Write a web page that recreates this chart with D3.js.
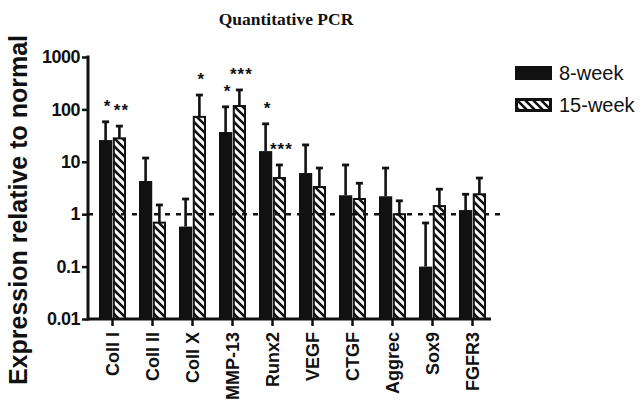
<!DOCTYPE html>
<html>
<head>
<meta charset="utf-8">
<script src="https://cdn.jsdelivr.net/npm/d3@7"></script>
<style>
  body { margin: 0; background: #fff; }
  svg { display: block; }
</style>
</head>
<body>
<div class="canvas"></div>
<script>
const categories = ['Coll I', 'Coll II', 'Coll X', 'MMP-13', 'Runx2', 'VEGF', 'CTGF', 'Aggrec', 'Sox9', 'FGFR3'];
const series = ['8-week', '15-week'];

// mean values and upper error (mean + sd)
const week8 = [26, 4.3, 0.58, 37, 16, 6.1, 2.3, 2.2, 0.1, 1.2];
const week8Err = [58, 11.8, 1.95, 112, 53, 21, 8.7, 7.6, 0.68, 2.4];
const week15 = [28, 0.69, 72, 116, 4.9, 3.3, 1.95, 1.0, 1.43, 2.4];
const week15Err = [48, 1.5, 188, 235, 8.7, 7.6, 3.9, 1.8, 3.0, 4.9];

// significance marks per bar
const stars8 = ['*', '', '', '*', '*', '', '', '', '', ''];
const stars15 = ['**', '', '*', '***', '***', '', '', '', '', ''];

const yTicks = [0.01, 0.1, 1, 10, 100, 1000];
const yTickLabels = ['0.01', '0.1', '1', '10', '100', '1000'];

const dims = { width: 642, height: 405 };
const plot = { left: 88, right: 491, top: 57, bottom: 319 };

const svg = d3.select('.canvas')
    .append('svg')
    .attr('width', dims.width)
    .attr('height', dims.height);

const defs = svg.append('defs');
const hatch = defs.append('pattern')
    .attr('id', 'hatch')
    .attr('patternUnits', 'userSpaceOnUse')
    .attr('width', 8)
    .attr('height', 8);
hatch.append('rect').attr('width', 8).attr('height', 8).attr('fill', '#fff');
hatch.append('path')
    .attr('d', 'M-4,4 L4,12 M0,0 L8,8 M4,-4 L12,4')
    .attr('stroke', '#111')
    .attr('stroke-width', 2.6);

const x = d3.scaleBand()
    .domain(categories)
    .range([92.5, 492.5]);

const xSub = d3.scaleBand()
    .domain(series)
    .range([0, 27])
    .paddingInner(0.04);

const y = d3.scaleLog()
    .domain([0.01, 1000])
    .range([plot.bottom, plot.top]);

const rows = [];
categories.forEach((c, i) => {
    rows.push({ cat: c, s: '8-week', v: week8[i], err: week8Err[i], star: stars8[i] });
    rows.push({ cat: c, s: '15-week', v: week15[i], err: week15Err[i], star: stars15[i] });
});

const barX = d => x(d.cat) + x.bandwidth() / 2 - 13.5 + xSub(d.s);

const graph = svg.append('g');

// error bars (upper only)
const eb = graph.selectAll('g.err')
    .data(rows)
    .enter()
    .append('g')
    .attr('class', 'err');

eb.append('line')
    .attr('x1', d => barX(d) + xSub.bandwidth() / 2)
    .attr('x2', d => barX(d) + xSub.bandwidth() / 2)
    .attr('y1', d => y(d.v))
    .attr('y2', d => y(d.err))
    .attr('stroke', '#111')
    .attr('stroke-width', 2.6);

eb.append('line')
    .attr('x1', d => barX(d) + xSub.bandwidth() / 2 - 3.5)
    .attr('x2', d => barX(d) + xSub.bandwidth() / 2 + 3.5)
    .attr('y1', d => y(d.err))
    .attr('y2', d => y(d.err))
    .attr('stroke', '#111')
    .attr('stroke-width', 2.8);

// bars
graph.selectAll('rect.bar')
    .data(rows)
    .enter()
    .append('rect')
    .attr('class', 'bar')
    .attr('x', d => d.s === '8-week' ? barX(d) : barX(d) + 1)
    .attr('width', d => d.s === '8-week' ? xSub.bandwidth() : xSub.bandwidth() - 2)
    .attr('y', d => y(d.v))
    .attr('height', d => plot.bottom - y(d.v))
    .attr('fill', d => d.s === '8-week' ? '#111' : 'url(#hatch)')
    .attr('stroke', d => d.s === '8-week' ? 'none' : '#111')
    .attr('stroke-width', 2);

// reference line at 1
graph.append('line')
    .attr('x1', plot.left)
    .attr('x2', 502)
    .attr('y1', y(1))
    .attr('y2', y(1))
    .attr('stroke', '#111')
    .attr('stroke-width', 2.4)
    .attr('stroke-dasharray', '5,6');

// significance stars
graph.selectAll('text.star')
    .data(rows.filter(d => d.star))
    .enter()
    .append('text')
    .attr('class', 'star')
    .attr('x', d => barX(d) + xSub.bandwidth() / 2 + 2)
    .attr('y', d => y(d.err) - 10)
    .attr('text-anchor', 'middle')
    .attr('font-family', 'Liberation Sans, Arial, sans-serif')
    .attr('font-weight', 'bold')
    .attr('font-size', 17)
    .attr('letter-spacing', 1)
    .attr('fill', '#111')
    .text(d => d.star);

// axes
const yAxis = d3.axisLeft(y)
    .tickValues(yTicks)
    .tickFormat((d, i) => yTickLabels[i])
    .tickSize(6)
    .tickPadding(2);

const yg = svg.append('g')
    .attr('transform', `translate(${plot.left},0)`)
    .call(yAxis);
yg.select('.domain').remove();
yg.append('line')
    .attr('x1', 0).attr('x2', 0)
    .attr('y1', plot.top - 1.5).attr('y2', plot.bottom + 1.5)
    .attr('stroke', '#111').attr('stroke-width', 3);
yg.selectAll('.tick line').attr('stroke', '#111').attr('stroke-width', 2.5);
yg.selectAll('.tick text')
    .attr('fill', '#111')
    .attr('font-family', 'Liberation Sans, Arial, sans-serif')
    .attr('font-weight', 'bold')
    .attr('font-size', 18)
    .attr('letter-spacing', -0.5);

const xAxis = d3.axisBottom(x)
    .tickSize(7)
    .tickSizeOuter(0)
    .tickPadding(6);

const xg = svg.append('g')
    .attr('transform', `translate(0,${plot.bottom})`)
    .call(xAxis);
xg.select('.domain').remove();
xg.append('line')
    .attr('x1', plot.left).attr('x2', plot.right)
    .attr('y1', 0).attr('y2', 0)
    .attr('stroke', '#111').attr('stroke-width', 3);
xg.selectAll('.tick line').attr('stroke', '#111').attr('stroke-width', 2.5);
xg.selectAll('.tick text')
    .attr('fill', '#111')
    .attr('font-family', 'Liberation Sans, Arial, sans-serif')
    .attr('font-weight', 'bold')
    .attr('font-size', 18)
    .attr('text-anchor', 'end')
    .attr('transform', 'rotate(-90)')
    .attr('x', -13)
    .attr('y', 0)
    .attr('dy', '0.35em');

// y label
svg.append('text')
    .attr('transform', 'translate(27,210) rotate(-90)')
    .attr('text-anchor', 'middle')
    .attr('font-family', 'Liberation Sans, Arial, sans-serif')
    .attr('font-weight', 'bold')
    .attr('font-size', 25)
    .attr('fill', '#111')
    .text('Expression relative to normal');

// title
svg.append('text')
    .attr('x', 286)
    .attr('y', 25)
    .attr('text-anchor', 'middle')
    .attr('font-family', 'Liberation Serif, Times New Roman, serif')
    .attr('font-weight', 'bold')
    .attr('font-size', 17.5)
    .attr('fill', '#111')
    .text('Quantitative PCR');

// legend
const legend = svg.append('g')
    .attr('transform', 'translate(515,66)');

const li = legend.selectAll('g')
    .data(series)
    .enter()
    .append('g')
    .attr('transform', (d, i) => `translate(0,${i * 32})`);

li.append('rect')
    .attr('x', d => d === '8-week' ? 0 : 1.5)
    .attr('y', d => d === '8-week' ? 0 : 1.5)
    .attr('width', d => d === '8-week' ? 37 : 34)
    .attr('height', d => d === '8-week' ? 14 : 11)
    .attr('fill', d => d === '8-week' ? '#111' : 'url(#hatch)')
    .attr('stroke', d => d === '8-week' ? 'none' : '#111')
    .attr('stroke-width', 3);

li.append('text')
    .attr('x', 44)
    .attr('y', 14)
    .attr('font-family', 'Liberation Sans, Arial, sans-serif')
    .attr('font-size', 20)
    .attr('fill', '#111')
    .text(d => d);
</script>
</body>
</html>
